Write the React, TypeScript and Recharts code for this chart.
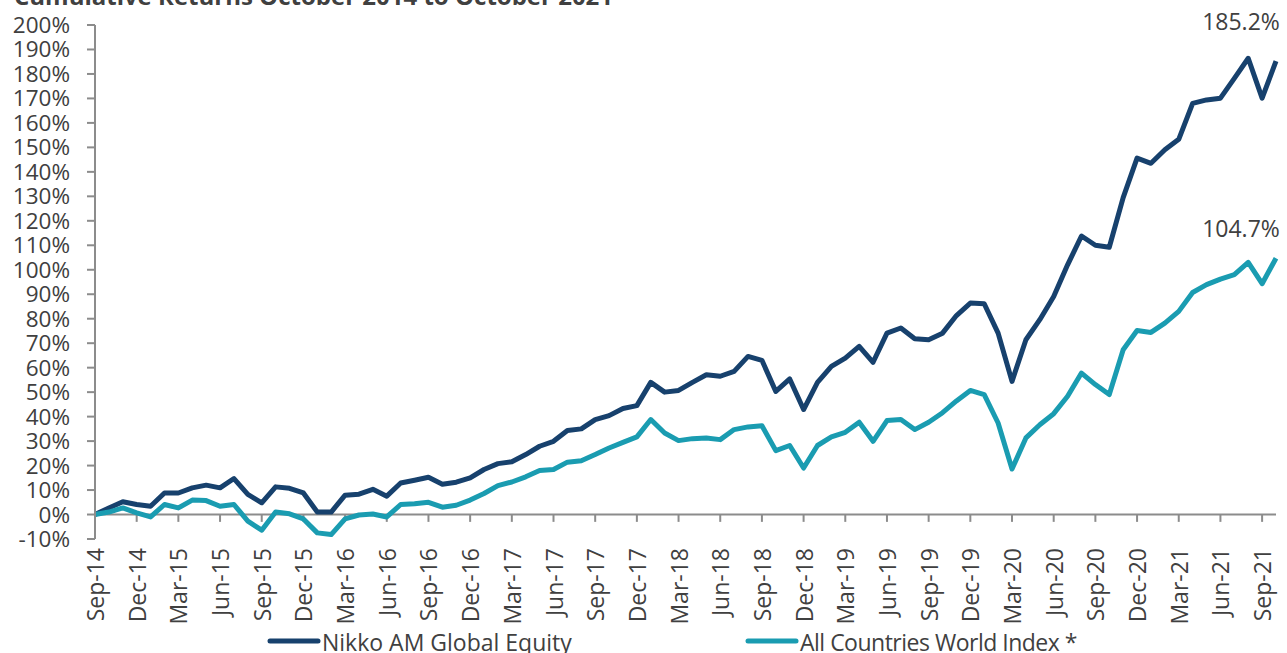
import React from 'react';
import { LineChart, Line, XAxis, YAxis, ReferenceLine, Legend, LabelList } from 'recharts';

const months = [
  'Sep-14','Oct-14','Nov-14','Dec-14','Jan-15','Feb-15','Mar-15','Apr-15','May-15','Jun-15','Jul-15','Aug-15',
  'Sep-15','Oct-15','Nov-15','Dec-15','Jan-16','Feb-16','Mar-16','Apr-16','May-16','Jun-16','Jul-16','Aug-16',
  'Sep-16','Oct-16','Nov-16','Dec-16','Jan-17','Feb-17','Mar-17','Apr-17','May-17','Jun-17','Jul-17','Aug-17',
  'Sep-17','Oct-17','Nov-17','Dec-17','Jan-18','Feb-18','Mar-18','Apr-18','May-18','Jun-18','Jul-18','Aug-18',
  'Sep-18','Oct-18','Nov-18','Dec-18','Jan-19','Feb-19','Mar-19','Apr-19','May-19','Jun-19','Jul-19','Aug-19',
  'Sep-19','Oct-19','Nov-19','Dec-19','Jan-20','Feb-20','Mar-20','Apr-20','May-20','Jun-20','Jul-20','Aug-20',
  'Sep-20','Oct-20','Nov-20','Dec-20','Jan-21','Feb-21','Mar-21','Apr-21','May-21','Jun-21','Jul-21','Aug-21',
  'Sep-21','Oct-21'
];

const nikko = [
  0, 2.7, 5.2, 4.1, 3.4, 8.8, 8.8, 10.9, 12, 10.9, 14.7, 8.2,
  4.8, 11.3, 10.7, 8.8, 1, 1, 7.9, 8.3, 10.3, 7.5, 12.9, 14,
  15.2, 12.4, 13.2, 15, 18.4, 20.8, 21.6, 24.5, 27.9, 29.9, 34.3, 35,
  38.8, 40.4, 43.3, 44.5, 54, 50, 50.7, 54, 57.1, 56.5, 58.5, 64.6,
  63, 50.3, 55.4, 42.9, 54, 60.5, 63.9, 68.7, 62.2, 74.1, 76.2, 71.8,
  71.4, 74.1, 81.3, 86.4, 86.1, 74.1, 54.4, 71.4, 79.6, 89.1, 102, 113.8,
  110, 109.2, 129.5, 145.6, 143.5, 149, 153.3, 168, 169.4, 170.1, 178.2, 186.4,
  170.1, 185.2
];

const acwi = [
  0, 1, 2.7, 0.7, -1, 4.1, 2.7, 5.9, 5.7, 3.4, 4.1, -2.7,
  -6.4, 1, 0.3, -1.8, -7.5, -8.2, -1.8, -0.2, 0.2, -1, 4.1, 4.4,
  5, 3, 3.8, 5.9, 8.6, 11.8, 13.3, 15.4, 18, 18.4, 21.4, 22,
  24.5, 27.2, 29.5, 31.7, 38.8, 33.3, 30.2, 31, 31.3, 30.6, 34.7, 35.8,
  36.3, 26.1, 28.2, 19, 28.2, 31.7, 33.6, 37.7, 29.9, 38.4, 38.8, 34.7,
  37.7, 41.6, 46.4, 50.7, 49, 37.4, 18.6, 31.3, 36.7, 41.2, 48.3, 57.8,
  53.1, 49, 67.3, 75.2, 74.4, 78.2, 83, 90.7, 93.9, 96.2, 98, 103,
  94.3, 104.7
];

const yTicks = [-10, 0, 10, 20, 30, 40, 50, 60, 70, 80, 90, 100, 110, 120, 130, 140, 150, 160, 170, 180, 190, 200];

const seriesNames = ['Nikko AM Global Equity', 'All Countries World Index *'];
const finalLabels = ['185.2%', '104.7%'];
const title = 'Cumulative Returns October 2014 to October 2021';

const NAVY = '#17416d';
const TEAL = '#1a9cb1';
const GRAY = '#8c8c8c';
const TEXT = '#404040';
const FONT = '"Open Sans", sans-serif';

const data = months.map((m, i) => ({ m, nikko: nikko[i], acwi: acwi[i] }));
const tickMonths = months.filter((_, i) => i % 3 === 0 && i > 0);
const lastIndex = months.length - 1;

const XTick = (props: any) => {
  const { x, y, payload } = props;
  const ax = x + 9;
  const ay = y + 9;
  return (
    <text x={ax} y={ay} transform={`rotate(-90 ${ax} ${ay})`} textAnchor="end" fontSize={23} fill={TEXT} fontFamily={FONT}>
      {payload.value}
    </text>
  );
};

const makeEndLabel = (text: string, dx: number, dy: number) => (props: any) => {
  const { x, y, index } = props;
  if (index !== lastIndex) return null;
  return (
    <text x={x + dx} y={y + dy} textAnchor="middle" fontSize={23} fill={TEXT} fontFamily={FONT}>
      {text}
    </text>
  );
};

const LegendContent = () => (
  <svg width={1287} height={30} style={{ display: 'block', overflow: 'visible' }}>
    <line x1={270} y1={18} x2={318} y2={18} stroke={NAVY} strokeWidth={5} strokeLinecap="round" />
    <text x={322} y={28} fontSize={23} fill={TEXT} fontFamily={FONT}>{seriesNames[0]}</text>
    <line x1={748} y1={18} x2={796} y2={18} stroke={TEAL} strokeWidth={5} strokeLinecap="round" />
    <text x={800} y={28} fontSize={23} fill={TEXT} fontFamily={FONT} letterSpacing={-0.5}>{seriesNames[1]}</text>
  </svg>
);

export default function App() {
  return (
    <div style={{ position: 'absolute', left: 0, top: 0, width: 1287, height: 653, background: '#fff', overflow: 'hidden' }}>
      <LineChart width={1287} height={653} data={data} margin={{ top: 25, right: 11, bottom: 0, left: 0 }}>
        <XAxis
          dataKey="m"
          interval={2}
          tick={<XTick />}
          tickLine={false}
          axisLine={false}
          tickSize={0}
          tickMargin={0}
          height={84}
          padding={{ left: 0, right: 0 }}
        />
        <YAxis
          width={95}
          domain={[-10, 200]}
          ticks={yTicks}
          interval={0}
          tickFormatter={(v: number) => `${v}%`}
          tick={{ fontSize: 22.5, fill: TEXT, fontFamily: FONT }}
          tickSize={8}
          tickMargin={17}
          axisLine={{ stroke: GRAY, strokeWidth: 2 }}
          tickLine={{ stroke: GRAY, strokeWidth: 2 }}
        />
        <ReferenceLine y={0} stroke={GRAY} strokeWidth={2} />
        {tickMonths.map((m) => (
          <ReferenceLine key={m} segment={[{ x: m, y: 0 }, { x: m, y: -3 }]} stroke={GRAY} strokeWidth={2} />
        ))}
        <Line dataKey="nikko" stroke={NAVY} strokeWidth={5} dot={false} isAnimationActive={false} strokeLinejoin="round">
          <LabelList dataKey="nikko" content={makeEndLabel(finalLabels[0], -35, -31)} />
        </Line>
        <Line dataKey="acwi" stroke={TEAL} strokeWidth={5} dot={false} isAnimationActive={false} strokeLinejoin="round">
          <LabelList dataKey="acwi" content={makeEndLabel(finalLabels[1], -35, -21)} />
        </Line>
        <Legend verticalAlign="bottom" height={30} content={<LegendContent />} wrapperStyle={{ left: 0, width: 1287, height: 30 }} />
      </LineChart>
      <svg width={1287} height={20} style={{ position: 'absolute', left: 0, top: 0, pointerEvents: 'none' }}>
        <text x={14} y={5} fontSize={24} fontWeight="bold" fill={TEXT} fontFamily={FONT}>{title}</text>
      </svg>
    </div>
  );
}
